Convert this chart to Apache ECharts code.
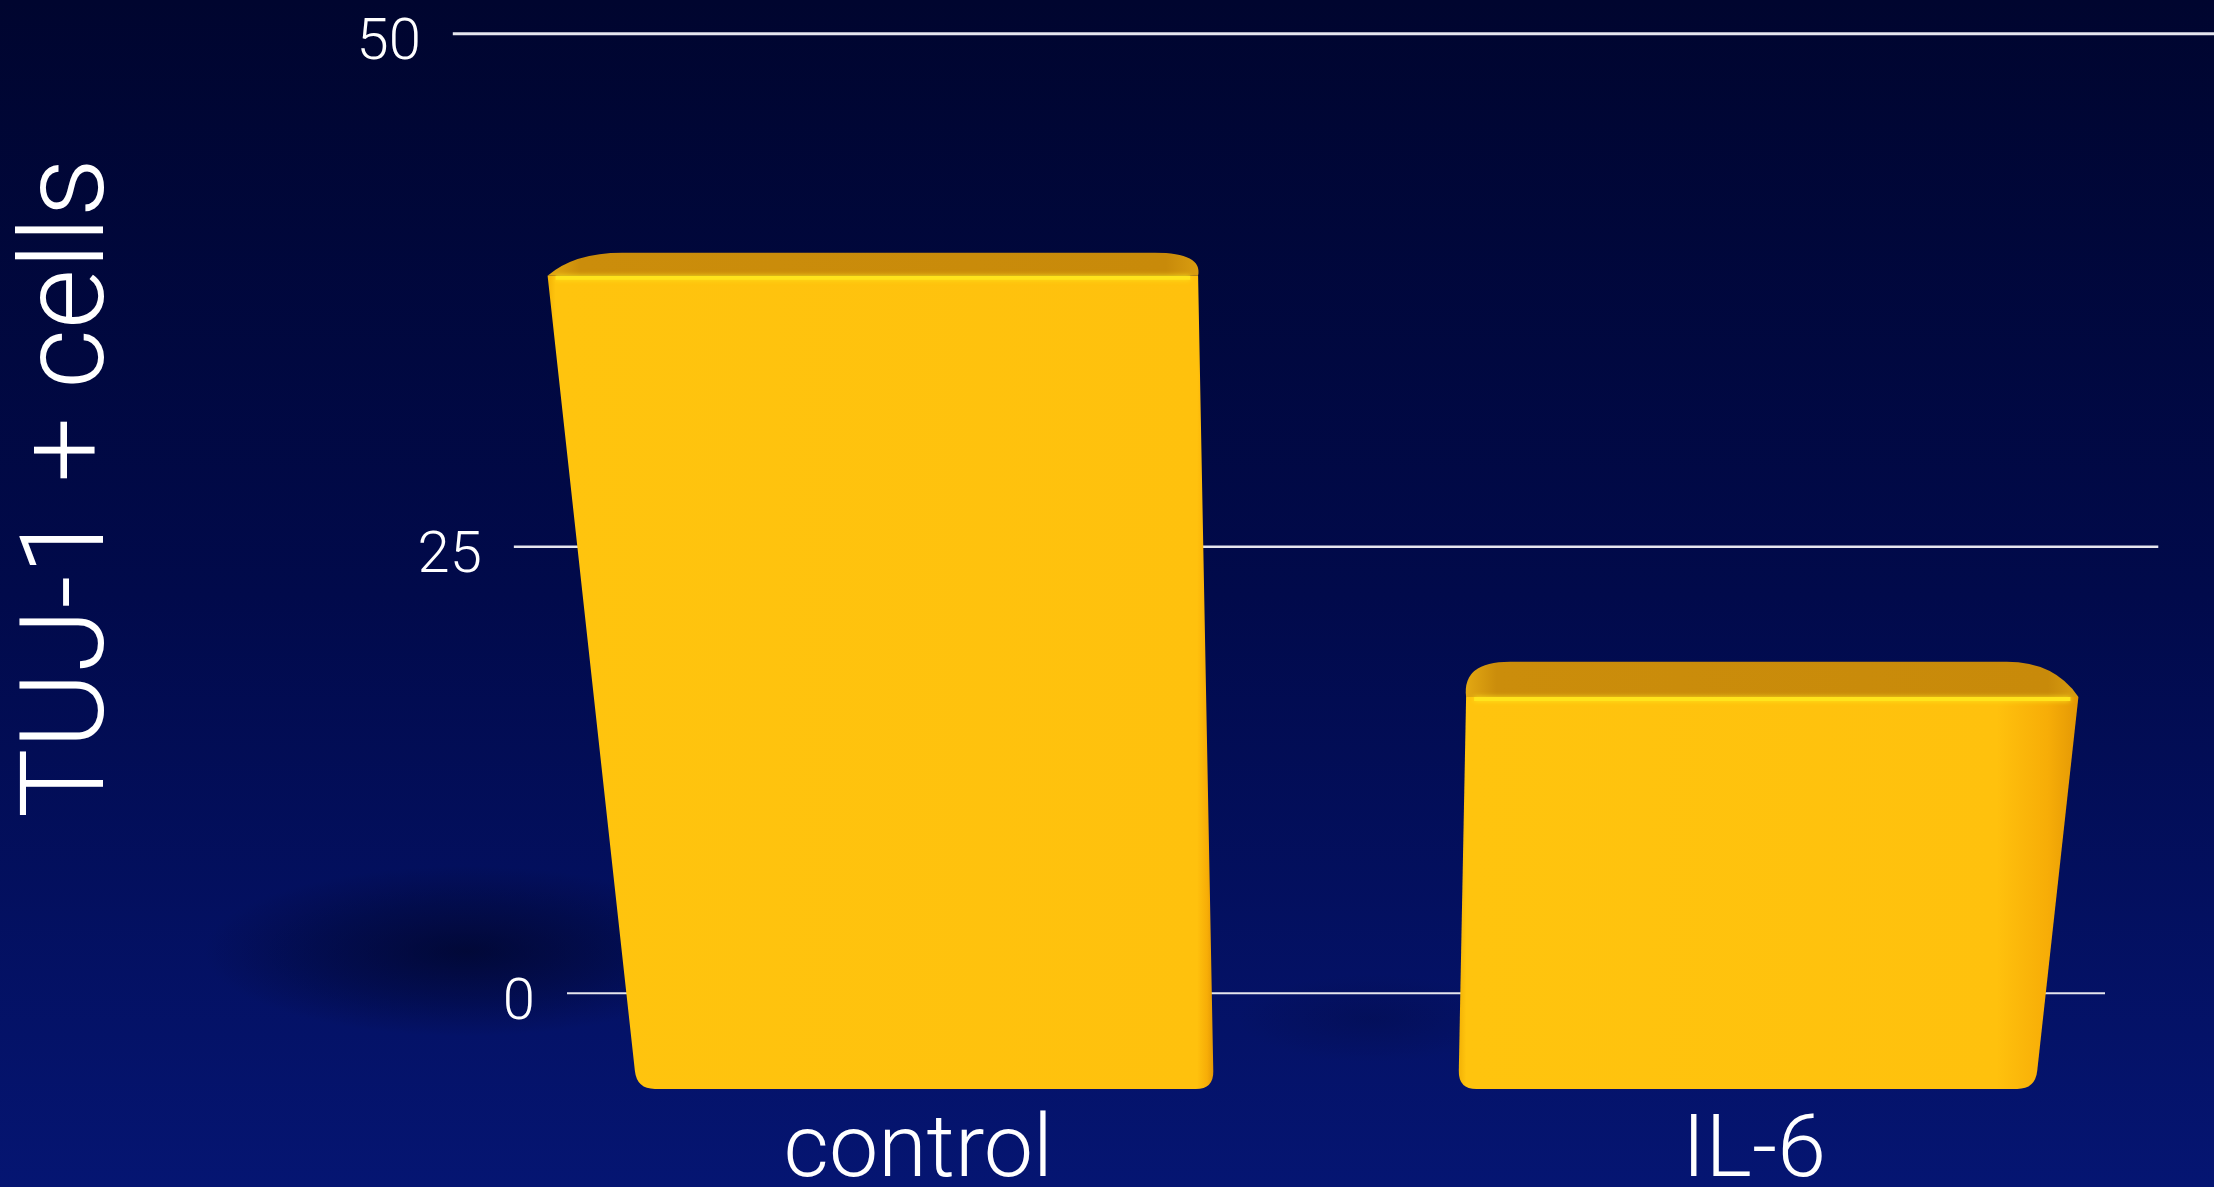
<!DOCTYPE html>
<html>
<head>
<meta charset="utf-8">
<script src="https://cdn.jsdelivr.net/npm/echarts@6/dist/echarts.min.js"></script>
<style>
  html, body { margin: 0; padding: 0; background: #020a40; }
  #chart { width: 2214px; height: 1187px; }
</style>
</head>
<body>
<div id="chart"></div>
<script>
// ---- data ----
const categories = ['control', 'IL-6'];
const cellCounts = [41, 21];
const yTicks = [0, 25, 50];
const yAxisTitle = 'TUJ-1 + cells';

const FONT = 'Roboto, "Helvetica Neue", Arial, sans-serif';

// Perspective camera. Heights (h) and x positions come in as grid pixels;
// vertical edges converge to a point far below the chart, depth recedes to the horizon above.
const CAMERA = { vpX: 1335, heightGain: -1.205, heightPersp: -0.00016181, horizonY: -406 };
// depth offsets (negative = nearer to the viewer than the back wall)
const DEPTH = { wall: 0, barBack: -0.035, barFront: -0.064, labels: -0.08 };

function project(x, h, t, zeroY) {
  const w = 1 + CAMERA.heightPersp * h + t;
  return [CAMERA.vpX + (x - CAMERA.vpX) / w,
          (zeroY + CAMERA.heightGain * h + CAMERA.horizonY * t) / w];
}
function toward(a, b, d) {
  const dx = b[0] - a[0], dy = b[1] - a[1];
  const k = Math.min(1, d / Math.hypot(dx, dy));
  return [a[0] + dx * k, a[1] + dy * k];
}
const pt = p => p[0].toFixed(1) + ' ' + p[1].toFixed(1);

// shared bar geometry in screen space
function barGeometry(api) {
  const idx = api.value(0);
  const v = api.value(1);
  const [cx, topY] = api.coord([idx, v]);
  const zeroY = api.coord([idx, 0])[1];
  const h = zeroY - topY;
  const half = api.size([1, 0])[0] * 0.351;
  const xl = cx - half, xr = cx + half;
  const P = (x, hh, t) => project(x, hh, t, zeroY);
  const F = DEPTH.barFront, B = DEPTH.barBack;
  return {
    idx, h, cx, P, zeroY,
    fl0: P(xl, 0, F), fr0: P(xr, 0, F),
    flh: P(xl, h, F), frh: P(xr, h, F),
    blh: P(xl, h, B), brh: P(xr, h, B)
  };
}

// soft floor shadow cast to the left of each bar; deeper for taller bars
function renderShadow(params, api) {
  const g = barGeometry(api);
  const depth = Math.pow(g.h / (g.zeroY - params.coordSys.y), 2) * 1.6;
  const a = k => 'rgba(0,3,30,' + Math.min(0.62, depth * k).toFixed(3) + ')';
  return {
    type: 'circle', shape: { cx: 0, cy: 0, r: 1 },
    x: g.fl0[0] - g.h * 0.26, y: g.fl0[1] - g.h * 0.21, scaleX: g.h * 0.4, scaleY: g.h * 0.13,
    style: { fill: new echarts.graphic.RadialGradient(0.5, 0.5, 0.5, [
      { offset: 0, color: a(0.6) },
      { offset: 0.55, color: a(0.28) },
      { offset: 1, color: 'rgba(0,3,30,0)' }
    ]) }
  };
}

// back-wall grid lines with their tick labels
function renderGridLine(params, api) {
  const cs = params.coordSys;
  const v = api.value(1);
  const zeroY = api.coord([0, 0])[1];
  const h = zeroY - api.coord([0, v])[1];
  const a = project(cs.x, h, DEPTH.wall, zeroY);
  const b = project(cs.x + cs.width, h, DEPTH.wall, zeroY);
  return {
    type: 'group',
    children: [
      { type: 'line', shape: { x1: a[0], y1: a[1], x2: b[0], y2: b[1] },
        style: { stroke: '#e6e6ee', lineWidth: 2 + h / 800 } },
      { type: 'text',
        style: { text: String(v), x: a[0] - 32, y: a[1] + 11, align: 'right', verticalAlign: 'middle',
                 fill: '#ffffff', fontSize: 58, fontFamily: FONT, fontWeight: 300 } }
    ]
  };
}

// 3-D looking bars: front face, top face, edge highlight, category label
function renderBar(params, api) {
  const g = barGeometry(api);
  const { fl0, fr0, flh, frh, blh, brh } = g;

  const r = 18;
  const a1 = toward(fl0, flh, r), a2 = toward(fl0, fr0, r);
  const a3 = toward(fr0, fl0, r), a4 = toward(fr0, frh, r);
  const frontPath = 'M' + pt(flh) + ' L' + pt(a1) + ' Q' + pt(fl0) + ' ' + pt(a2) +
                    ' L' + pt(a3) + ' Q' + pt(fr0) + ' ' + pt(a4) + ' L' + pt(frh) + ' Z';

  const rt = 48;
  const b1 = toward(blh, brh, rt), b2 = toward(brh, blh, rt);
  const topPath = 'M' + pt(flh) + ' Q' + pt(blh) + ' ' + pt(b1) + ' L' + pt(b2) +
                  ' Q' + pt(brh) + ' ' + pt(frh) + ' Z';

  // right bevel widens the further the edge sits from the vanishing point
  const rightBevel = Math.min(0.09, Math.max(0.015, Math.abs(frh[0] - CAMERA.vpX) / 9000));
  const frontFill = new echarts.graphic.LinearGradient(0, 0, 1, 0, [
    { offset: 0, color: '#f2b206' },
    { offset: 0.012, color: '#ffc40e' },
    { offset: 1 - rightBevel * 1.6, color: '#ffc10d' },
    { offset: 1 - rightBevel * 0.6, color: '#f7ad07' },
    { offset: 1, color: '#e39805' }
  ]);
  const topFill = new echarts.graphic.LinearGradient(0, 0, 1, 0, [
    { offset: 0, color: '#e3a812' },
    { offset: 0.05, color: '#cb8d0b' },
    { offset: 0.95, color: '#c88a0a' },
    { offset: 1, color: '#d99d10' }
  ]);
  const hl1 = toward(flh, frh, 8), hl2 = toward(frh, flh, 8);
  const label = g.P(g.cx, 0, DEPTH.labels);

  return {
    type: 'group',
    children: [
      { type: 'path', shape: { pathData: frontPath }, style: { fill: frontFill } },
      { type: 'path', shape: { pathData: topPath }, style: { fill: topFill } },
      { type: 'line', shape: { x1: hl1[0], y1: hl1[1] + 2, x2: hl2[0], y2: hl2[1] + 2 },
        style: { stroke: '#ffe41c', lineWidth: 4, shadowBlur: 5, shadowColor: '#ffe41c' } },
      { type: 'text',
        style: { text: categories[g.idx], x: label[0], y: label[1] + 39, align: 'center', verticalAlign: 'middle',
                 fill: '#ffffff', fontSize: 88, fontFamily: FONT, fontWeight: 300 } }
    ]
  };
}

const barData = categories.map((c, i) => [i, cellCounts[i]]);

const chart = echarts.init(document.getElementById('chart'), null, { renderer: 'canvas' });
chart.setOption({
  animation: false,
  backgroundColor: new echarts.graphic.LinearGradient(0, 0, 0, 1, [
    { offset: 0, color: '#00052f' },
    { offset: 0.5, color: '#010a4b' },
    { offset: 1, color: '#051572' }
  ]),
  grid: { left: 567, right: 109, top: 193.3, bottom: 193.7 },
  xAxis: { type: 'category', data: categories, show: false },
  yAxis: { type: 'value', min: 0, max: 50, interval: 25, show: false },
  graphic: [{
    type: 'text', x: 74, y: 488, rotation: Math.PI / 2,
    style: { text: yAxisTitle, align: 'center', verticalAlign: 'middle', fill: '#ffffff',
             fontSize: 116, fontFamily: FONT, fontWeight: 300 }
  }],
  series: [
    { type: 'custom', name: 'shadow', renderItem: renderShadow, encode: { x: 0, y: 1 },
      data: barData, silent: true, z: 0 },
    { type: 'custom', name: 'grid', renderItem: renderGridLine, encode: { x: 0, y: 1 },
      data: yTicks.map(v => [0, v]), silent: true, z: 1 },
    { type: 'custom', name: 'TUJ-1 + cells', renderItem: renderBar, encode: { x: 0, y: 1 },
      data: barData, z: 2 }
  ]
});
</script>
</body>
</html>
